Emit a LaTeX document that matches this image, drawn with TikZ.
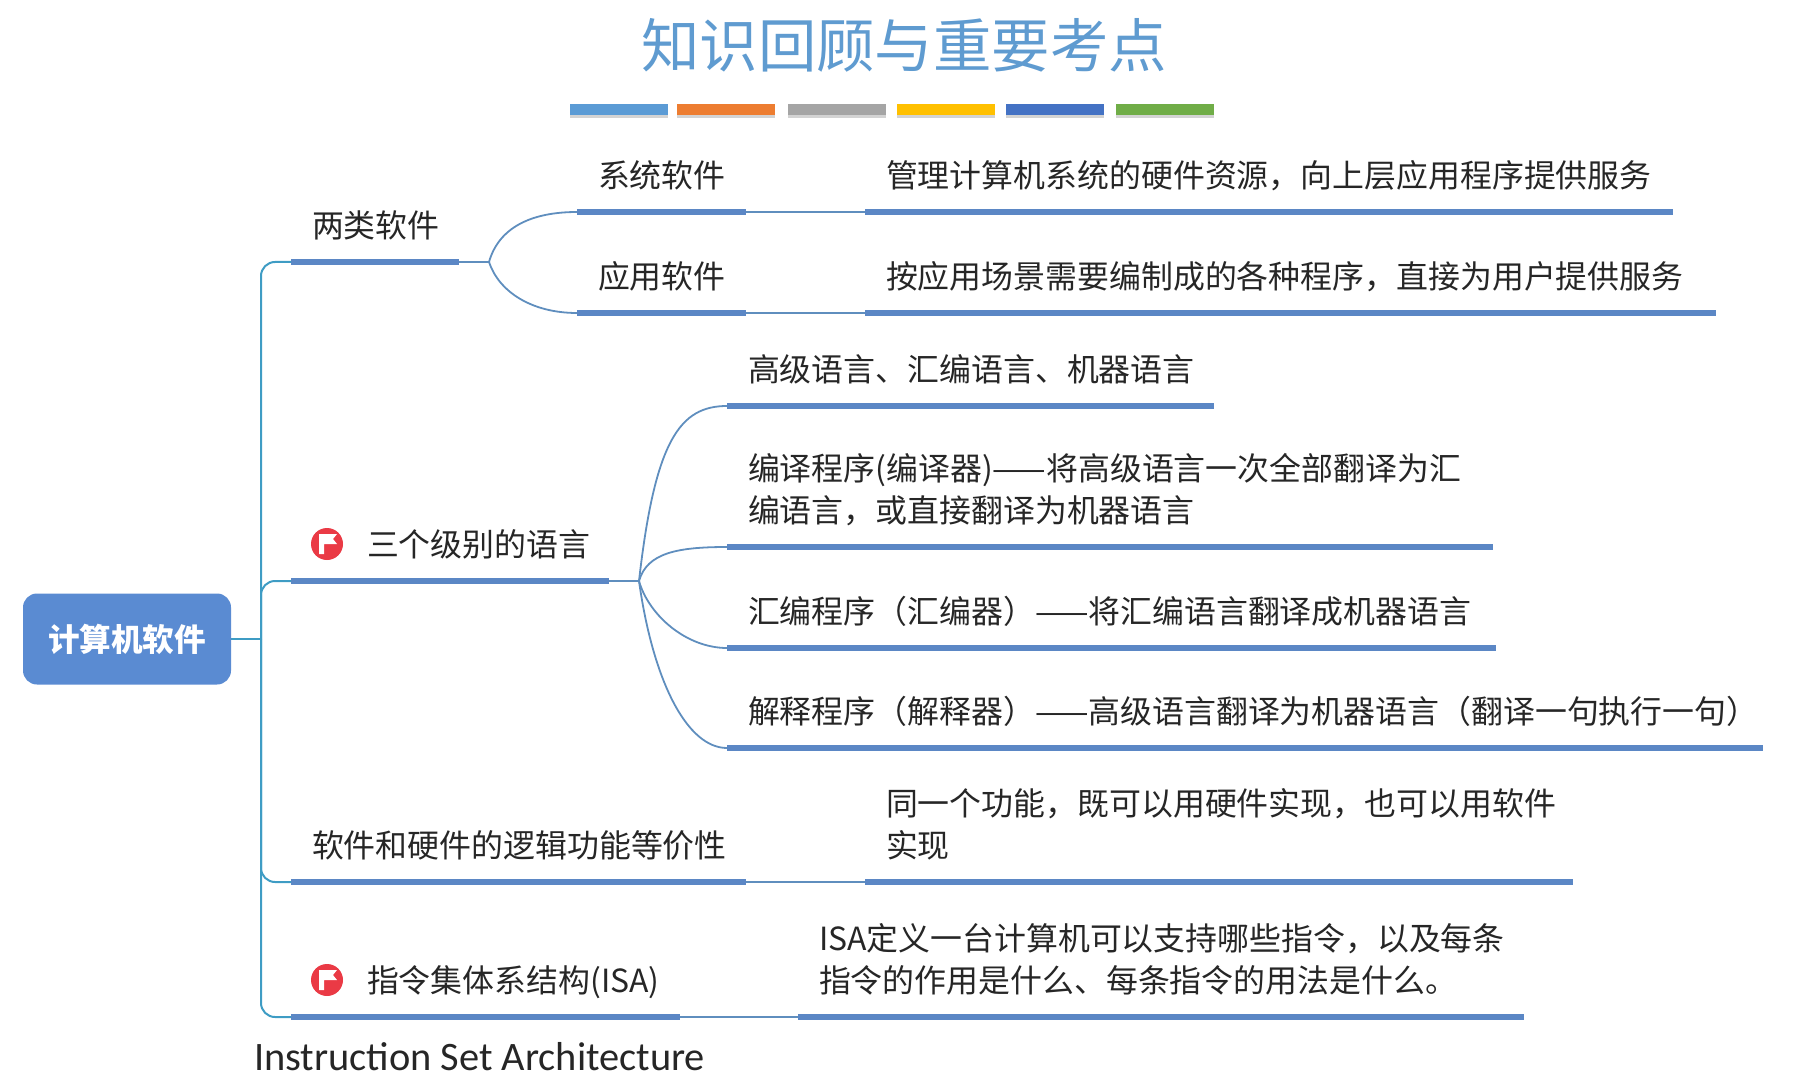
\documentclass[tikz,border=0pt]{standalone}
\usepackage{fontspec}
\setmainfont{Noto Sans CJK SC}
\newfontfamily\latinfont{Carlito}
\usepackage{xcolor}
\definecolor{cBar}{HTML}{5B87C5}
\definecolor{cRoot}{HTML}{5A8BD2}
\definecolor{cTitle}{HTML}{5F9BD0}
\definecolor{cTrunk}{HTML}{3E9CC4}
\definecolor{cLink}{HTML}{5F8EBE}
\definecolor{cInk}{HTML}{262626}
\definecolor{cFlag}{HTML}{EA3A45}
\definecolor{cStripA}{HTML}{5B9BD5}
\definecolor{cStripB}{HTML}{ED7D31}
\definecolor{cStripC}{HTML}{A5A5A5}
\definecolor{cStripD}{HTML}{FFC000}
\definecolor{cStripE}{HTML}{4472C4}
\definecolor{cStripF}{HTML}{70AD47}
\usetikzlibrary{positioning,shadows}
\tikzset{
  node-root/.style={fill=cRoot,rounded corners=7pt,minimum width=104pt,minimum height=45.5pt,
    inner sep=0pt,outer sep=0pt,text=white,font=\fontsize{15.8pt}{18pt}\selectfont\bfseries},
  node-bar/.style={fill=cBar,inner sep=0pt,outer sep=0pt,minimum height=3.3pt,minimum width=#1,anchor=west},
  node-text/.style={inner sep=0pt,outer sep=0pt,text depth=0pt,align=left,text=cInk,
    font=\fontsize{15.95pt}{20.8pt}\selectfont},
  node-strip/.style={inner sep=0pt,outer sep=0pt,minimum width=49pt,minimum height=5.5pt,anchor=west,fill=#1,
    drop shadow={shadow xshift=0pt,shadow yshift=-1.2pt,opacity=.35}},
  node-flag/.style={circle,fill=cFlag,inner sep=0pt,outer sep=0pt,minimum size=16pt},
  link/.style={line width=.9pt,draw=cLink},
  link-trunk/.style={line width=1pt,draw=cTrunk,rounded corners=7pt},
}

\begin{document}
\begin{tikzpicture}[x=0.5pt,y=-0.5pt]
  \useasboundingbox (0,0) rectangle (1810,1091);
  \node[text=cTitle,inner sep=0pt,font=\fontsize{29.2pt}{32pt}\selectfont] (title) at (904,45) {知识回顾与重要考点};
  \node[node-strip=cStripA] (stripa) at (570,110) {};
  \node[node-strip=cStripB,right=4.5pt of stripa] (stripb) {};
  \node[node-strip=cStripC,right=6.5pt of stripb] (stripc) {};
  \node[node-strip=cStripD,right=5.5pt of stripc] (stripd) {};
  \node[node-strip=cStripE,right=5.5pt of stripd] (stripe) {};
  \node[node-strip=cStripF,right=6pt of stripe] (stripf) {};

  \node[node-root] (root) at (127,639) {计算机软件};
  \coordinate (trunk) at (261,639);

  % first level
  \node[node-bar=84pt] (kinds) at (291,262) {};
  \node[node-bar=159pt] (langs) at (291,581) {};
  \node[node-bar=227.5pt] (equiv) at (291,882) {};
  \node[node-bar=194.5pt] (isa) at (291,1017) {};
  \coordinate[right=15pt of kinds] (kindsfork);
  \coordinate[right=15pt of langs] (langsfork);

  % two kinds of software
  \node[node-bar=84.5pt] (sys) at (577,212) {};
  \node[node-bar=404pt,right=59.5pt of sys] (sysinfo) {};
  \node[node-bar=84.5pt] (app) at (577,313) {};
  \node[node-bar=425.5pt,right=59.5pt of app] (appinfo) {};

  % three levels of language
  \node[node-bar=243.5pt] (lvl) at (727,406) {};
  \node[node-bar=383pt] (comp) at (727,547) {};
  \node[node-bar=384.5pt] (asm) at (727,648) {};
  \node[node-bar=518pt] (interp) at (727,748) {};

  \node[node-bar=354pt,right=59.5pt of equiv] (equivinfo) {};
  \node[node-bar=363pt,right=59pt of isa] (isainfo) {};

  \node[node-text,above right=12.4pt and 10.5pt of kinds.west] (kindst) {两类软件};
  \node[node-flag,above right=18.5pt and 18pt of langs.west,anchor=center] (flaga) {};
  \node[node-text,above right=12.4pt and 38pt of langs.west] (langst) {三个级别的语言};
  \node[node-text,above right=12.4pt and 10.5pt of equiv.west] (equivt) {软件和硬件的逻辑功能等价性};
  \node[node-flag,above right=18.5pt and 18pt of isa.west,anchor=center] (flagb) {};
  \node[node-text,above right=12.4pt and 38pt of isa.west] (isat) {指令集体系结构(ISA)};
  \node[node-text,above right=12.4pt and 10.5pt of sys.west] (syst) {系统软件};
  \node[node-text,above right=12.4pt and 10.5pt of app.west] (appt) {应用软件};
  \node[node-text,above right=12.4pt and 10.5pt of sysinfo.west] (sysinfot) {管理计算机系统的硬件资源，向上层应用程序提供服务};
  \node[node-text,above right=12.4pt and 10.5pt of appinfo.west] (appinfot) {按应用场景需要编制成的各种程序，直接为用户提供服务};
  \node[node-text,above right=12.4pt and 10.5pt of lvl.west] (lvlt) {高级语言、汇编语言、机器语言};
  \node[node-text,above right=12.4pt and 10.5pt of comp.west] (compt) {编译程序(编译器)——将高级语言一次全部翻译为汇\\编语言，或直接翻译为机器语言};
  \node[node-text,above right=12.4pt and 10.5pt of asm.west] (asmt) {汇编程序（汇编器）——将汇编语言翻译成机器语言};
  \node[node-text,above right=12.4pt and 10.5pt of interp.west] (interpt) {解释程序（解释器）——高级语言翻译为机器语言（翻译一句执行一句）};
  \node[node-text,above right=12.4pt and 10.5pt of equivinfo.west] (equivinfot) {同一个功能，既可以用硬件实现，也可以用软件\\实现};
  \node[node-text,above right=12.4pt and 10.5pt of isainfo.west] (isainfot) {ISA定义一台计算机可以支持哪些指令，以及每条\\指令的作用是什么、每条指令的用法是什么。};
  \node[node-text,below right=12.5pt and -18.5pt of isa.west,font=\latinfont\fontsize{20.2pt}{24pt}\selectfont] (isaname) {Instruction Set Architecture};

  % white flags on the red marks
  \foreach \f in {flaga,flagb}{
    \fill[white] ([shift={(-8,-10)}]\f.center) -- ++(18,0) -- ++(-4,5) -- ++(4,5) -- ++(-13,0) -- ++(0,10) -- ++(-5,0) -- cycle;
  }

  \draw[link-trunk] (root.east) -- (trunk);
  \draw[link-trunk] (trunk) |- (kinds.west);
  \draw[link-trunk] (trunk) |- (langs.west);
  \draw[link-trunk] (trunk) |- (equiv.west);
  \draw[link-trunk] (trunk) |- (isa.west);

  \draw[link] (kinds.east) -- (kindsfork);
  \draw[link] (langs.east) -- (langsfork);
  \draw[link] (kindsfork) .. controls +(10,-35) and +(-45,0) .. (sys.west);
  \draw[link] (kindsfork) .. controls +(10,30) and +(-45,0) .. (app.west);
  \draw[link] (langsfork) .. controls +(16,-141) and +(-47,0) .. (lvl.west);
  \draw[link] (langsfork) .. controls +(8,-28) and +(-50,0) .. (comp.west);
  \draw[link] (langsfork) .. controls +(10,35) and +(-40,0) .. (asm.west);
  \draw[link] (langsfork) .. controls +(14,100) and +(-40,0) .. (interp.west);
  \draw[link] (sys) -- (sysinfo);
  \draw[link] (app) -- (appinfo);
  \draw[link] (equiv) -- (equivinfo);
  \draw[link] (isa) -- (isainfo);
\end{tikzpicture}
\end{document}
